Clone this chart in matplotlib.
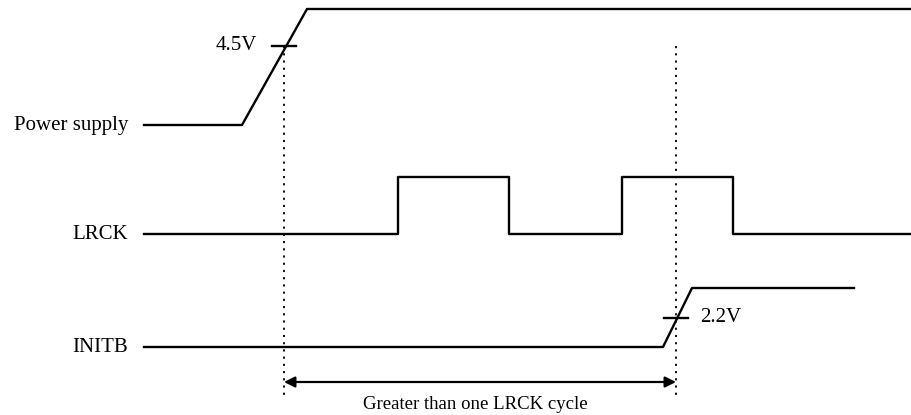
import matplotlib.pyplot as plt

# signal waveforms (x = time position, y = level position, diagram units)
power_x = [144, 242, 307, 912]
power_y = [125, 125, 9, 9]

lrck_x = [144, 398, 398, 509, 509, 622, 622, 733, 733, 912]
lrck_y = [234, 234, 177, 177, 234, 234, 177, 177, 234, 234]

initb_x = [144, 663, 692, 854]
initb_y = [347, 347, 288, 288]

signal_names = ['Power supply', 'LRCK', 'INITB']
signal_rows = [125, 234, 347]

# threshold markers
th_x = [284, 676]
th_y = [46, 318]
th_labels = ['4.5V', '2.2V']

arrow_y = 382
arrow_text = 'Greater than one LRCK cycle'

plt.rcParams['font.family'] = ['Liberation Serif', 'DejaVu Serif']

fig = plt.figure(figsize=(9.12, 4.15), dpi=100)
ax = fig.add_axes([0, 0, 1, 1])
ax.set_xlim(0, 912)
ax.set_ylim(415, 0)
ax.axis('off')

lw = 1.7
ax.plot(power_x, power_y, color='black', lw=lw)
ax.plot(lrck_x, lrck_y, color='black', lw=lw)
ax.plot(initb_x, initb_y, color='black', lw=lw)

for name, row in zip(signal_names, signal_rows):
    ax.text(128, row, name, ha='right', va='center', fontsize=15)

# threshold ticks and dotted guide lines
for x, y in zip(th_x, th_y):
    ax.plot([x - 12, x + 12], [y, y], color='black', lw=lw)
    ax.plot([x, x], [th_y[0], 396], color='black', lw=1.3, ls=(0, (1.2, 2.8)))
ax.text(257, th_y[0] - 1, th_labels[0], ha='right', va='center', fontsize=15)
ax.text(700, th_y[1] - 1, th_labels[1], ha='left', va='center', fontsize=15)

ax.annotate('', xy=(th_x[0], arrow_y), xytext=(th_x[1], arrow_y),
            arrowprops=dict(arrowstyle='<|-|>', color='black', lw=1.6,
                            mutation_scale=16, shrinkA=0, shrinkB=0))
ax.text((th_x[0] + th_x[1]) / 2 - 5, 404, arrow_text, ha='center', va='center', fontsize=13.5)

fig.savefig('out.png', dpi=100)
